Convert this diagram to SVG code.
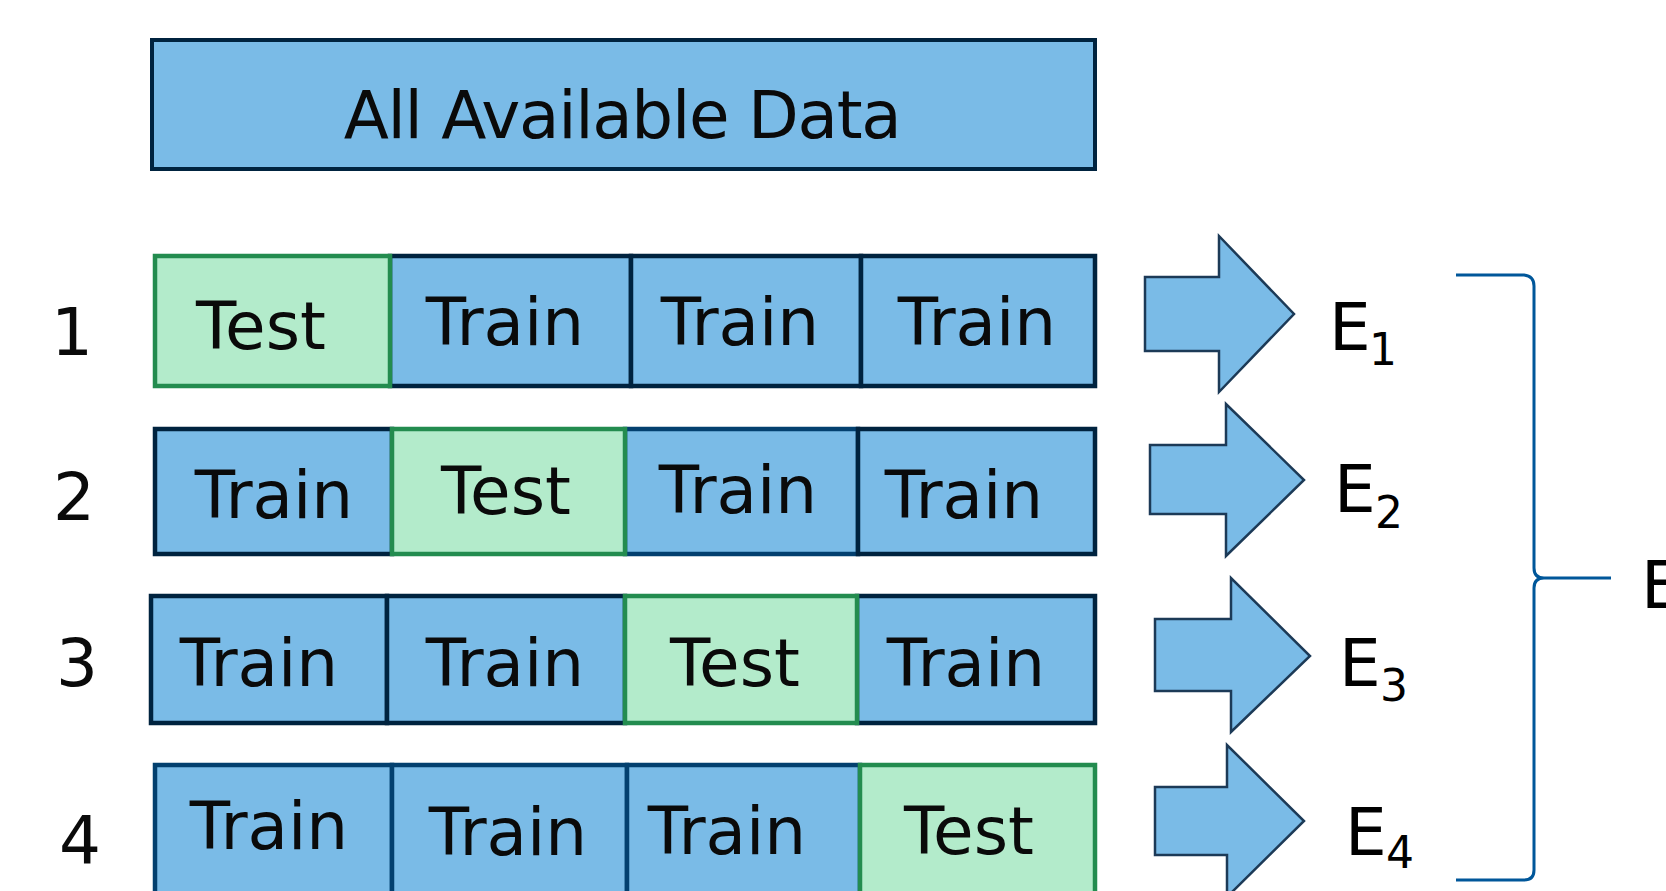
<svg xmlns="http://www.w3.org/2000/svg" width="1666" height="891" viewBox="0 0 1666 891">
<style>
.bl{fill:#7abbe7;stroke:#00233f;stroke-width:4.5}
.bl2{fill:#7abbe7;stroke:#03406f;stroke-width:4.5}
.gr{fill:#b3ebcb;stroke:#238c4f;stroke-width:4.5}
.t{font-family:"DejaVu Sans",sans-serif;font-size:66px;fill:#0a0a0a;text-anchor:middle}
.lbl{font-family:"DejaVu Sans",sans-serif;font-size:66px;fill:#000}
.sub{font-size:44px}
.arr{fill:#7abbe7;stroke:#1c3a57;stroke-width:2.5;stroke-linejoin:miter}
</style>
<rect width="1666" height="891" fill="#fff"/>
<g id="all-data">
<rect x="152" y="40" width="943" height="129" fill="#7abbe7" stroke="#00233f" stroke-width="4"/>
<text class="t" x="622" y="138" font-size="67" letter-spacing="-1.3">All Available Data</text>
</g>
<g id="row-labels">
<text class="t" x="72" y="355">1</text>
<text class="t" x="74" y="520">2</text>
<text class="t" x="77" y="686">3</text>
<text class="t" x="80" y="863">4</text>
</g>
<g id="fold1">
<rect class="bl" x="390" y="256" width="241" height="130"/>
<rect class="bl" x="631" y="256" width="230" height="130"/>
<rect class="bl" x="861" y="256" width="234" height="130"/>
<rect class="gr" x="155" y="256" width="235" height="130"/>
<text class="t" x="261" y="349">Test</text>
<text class="t" x="505" y="345">Train</text>
<text class="t" x="740" y="345">Train</text>
<text class="t" x="977" y="345">Train</text>
</g>
<g id="fold2">
<rect class="bl" x="155" y="429" width="237" height="125"/>
<rect class="bl2" x="625" y="429" width="233" height="125"/>
<rect class="bl" x="858" y="429" width="237" height="125"/>
<rect class="gr" x="392" y="429" width="233" height="125"/>
<text class="t" x="274" y="518">Train</text>
<text class="t" x="506" y="514">Test</text>
<text class="t" x="738" y="513">Train</text>
<text class="t" x="964" y="518">Train</text>
</g>
<g id="fold3">
<rect class="bl" x="151" y="596" width="236" height="127"/>
<rect class="bl" x="387" y="596" width="238" height="127"/>
<rect class="bl" x="857" y="596" width="238" height="127"/>
<rect class="gr" x="625" y="596" width="232" height="127"/>
<text class="t" x="259" y="686">Train</text>
<text class="t" x="505" y="686">Train</text>
<text class="t" x="735" y="686">Test</text>
<text class="t" x="966" y="686">Train</text>
</g>
<g id="fold4">
<rect class="bl2" x="155" y="765" width="237" height="140"/>
<rect class="bl2" x="392" y="765" width="235" height="140"/>
<rect class="bl2" x="627" y="765" width="233" height="140"/>
<rect class="gr" x="860" y="765" width="235" height="140"/>
<text class="t" x="269" y="849">Train</text>
<text class="t" x="508" y="855">Train</text>
<text class="t" x="727" y="854">Train</text>
<text class="t" x="969" y="854">Test</text>
</g>
<g id="connectors">
<path class="arr" d="M1145,277 H1219 V236 L1294,314 L1219,392 V351 H1145 Z"/>
<path class="arr" d="M1150,445 H1226 V404 L1304,480 L1226,556 V514 H1150 Z"/>
<path class="arr" d="M1155,619 H1231 V578 L1310,656 L1231,732 V691 H1155 Z"/>
<path class="arr" d="M1155,787 H1227 V745 L1304,821 L1227,897 V855 H1155 Z"/>
</g>
<g id="brace">
<path d="M1456,275 L1524,275 Q1534,276 1534,286 L1534,568 Q1534,578 1544,578 L1611,578 M1544,578 Q1534,578 1534,588 L1534,870 Q1534,880 1524,880 L1456,880" fill="none" stroke="#00579a" stroke-width="3"/>
</g>
<g id="e1"><text class="lbl" x="1329" y="350">E<tspan class="sub" x="1369" y="365">1</tspan></text></g>
<g id="e2"><text class="lbl" x="1334" y="512">E<tspan class="sub" x="1375" y="528">2</tspan></text></g>
<g id="e3"><text class="lbl" x="1339" y="686">E<tspan class="sub" x="1380" y="701">3</tspan></text></g>
<g id="e4"><text class="lbl" x="1345" y="855">E<tspan class="sub" x="1386" y="868">4</tspan></text></g>
<g id="e-total"><text class="lbl" x="1641" y="608">E</text></g>
</svg>
